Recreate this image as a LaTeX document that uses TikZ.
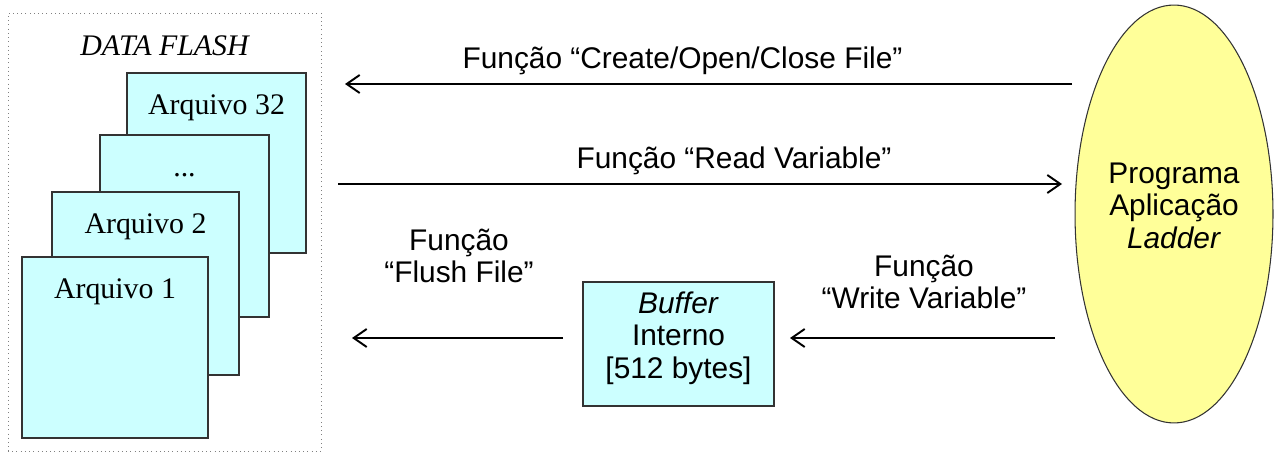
\documentclass[tikz,border=0pt]{standalone}
\usepackage{fontspec}
\setmainfont{Liberation Serif}
\newfontfamily\arialfont{Liberation Sans}
\usetikzlibrary{shapes,positioning,calc,arrows.meta}
\definecolor{ciano}{HTML}{CCFFFF}
\definecolor{amarelo}{HTML}{FFFF99}

\begin{document}
\begin{tikzpicture}[x=0.02cm, y=-0.02cm, font=\fontsize{17}{18.5}\selectfont,
  arquivo/.style={rectangle, draw=black!80, fill=ciano, line width=0.8pt, inner sep=0, anchor=center},
  titulo/.style={inner sep=0, text height=12pt, text depth=4pt},
  sans/.style={font=\arialfont\fontsize{17}{18.5}\selectfont, align=center, inner sep=0},
  seta/.style={line width=1.1pt, -{Straight Barb[length=2.6mm, width=3.6mm, line width=1.1pt]}}]

\useasboundingbox (0,0) rectangle (1277,452);

% DATA FLASH

\node [draw=gray, dotted, minimum width=6.26cm, minimum height=8.76cm] (flash) at (164.5,232) {};

\node [titulo, below=0.42cm of flash.north] (flash-titulo) {\itshape DATA FLASH};

\node [arquivo, minimum width=3.58cm, minimum height=3.6cm] (arquivo32) at (216.5,163) {};
\node [titulo, below=0.42cm of arquivo32.north] (arquivo32-titulo) {Arquivo 32};

\node [arquivo, minimum width=3.38cm, minimum height=3.64cm] (arquivo-dots) at (184.5,226) {};
\node [titulo, below=0.42cm of arquivo-dots.north] (arquivo-dots-titulo) {...};

\node [arquivo, minimum width=3.74cm, minimum height=3.66cm] (arquivo2) at (145.5,283.5) {};
\node [titulo, below=0.42cm of arquivo2.north] (arquivo2-titulo) {Arquivo 2};

\node [arquivo, minimum width=3.72cm, minimum height=3.62cm] (arquivo1) at (115,347.5) {};
\node [titulo, below=0.42cm of arquivo1.north] (arquivo1-titulo) {Arquivo 1};

% BUFFER E PROGRAMA

\node [arquivo, minimum width=3.82cm, minimum height=2.48cm] (buffer) at (678.5,344) {};
\node [sans, below=0.2cm of buffer.north] (buffer-texto) {\textit{Buffer}\\Interno\\{[}512 bytes{]}};

\node [ellipse, draw=black!80, fill=amarelo, line width=0.6pt, inner sep=0, minimum width=3.96cm, minimum height=8.36cm] (programa) at (1174,214) {};
\node [sans] (programa-texto) at ([yshift=0.17cm]programa.center) {Programa\\Aplicação\\\textit{Ladder}};

% FUNCOES

\node [sans] (create-label) at (682.5,61) {Função “Create/Open/Close File”};
\node [sans] (read-label) at (734,161) {Função “Read Variable”};
\node [sans] (write-label) at (924,282) {Função\\“Write Variable”};
\node [sans] (flush-label) at (459,256) {Função\\“Flush File”};

\coordinate (create-ini) at (1072,84);
\coordinate (create-fim) at (345,84);
\coordinate (read-ini) at (338,184);
\coordinate (read-fim) at (1062,184);
\coordinate (write-ini) at (1055,338);
\coordinate (write-fim) at (790,338);
\coordinate (flush-ini) at (563,338);
\coordinate (flush-fim) at (352,338);

\draw [seta] (create-ini) -- (create-fim);
\draw [seta] (read-ini) -- (read-fim);
\draw [seta] (write-ini) -- (write-fim);
\draw [seta] (flush-ini) -- (flush-fim);

\end{tikzpicture}
\end{document}
